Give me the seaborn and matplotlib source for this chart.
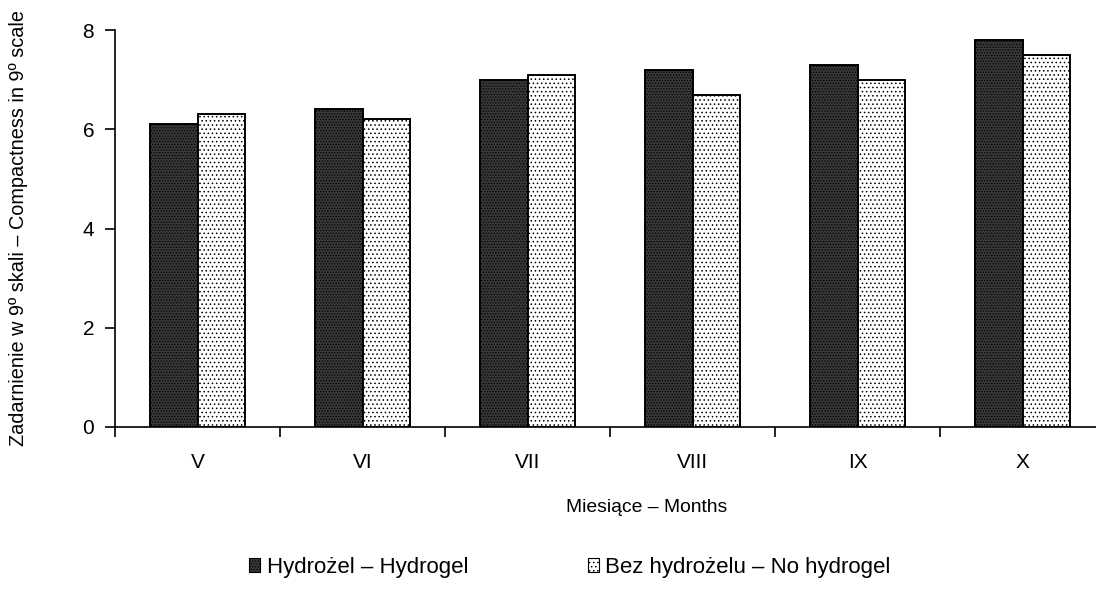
import matplotlib
matplotlib.use("Agg")
import matplotlib.pyplot as plt
from matplotlib.patches import Patch
import seaborn as sns
import pandas as pd
import numpy as np

months = ["V", "VI", "VII", "VIII", "IX", "X"]
hydrogel = [6.1, 6.4, 7.0, 7.2, 7.3, 7.8]
no_hydrogel = [6.3, 6.2, 7.1, 6.7, 7.0, 7.5]
series_names = ["Hydrożel – Hydrogel", "Bez hydrożelu – No hydrogel"]
y_ticks = [0, 2, 4, 6, 8]

df = pd.DataFrame({
    "month": months * 2,
    "value": hydrogel + no_hydrogel,
    "series": [series_names[0]] * len(months) + [series_names[1]] * len(months),
})

sns.set_theme(style="white")
plt.rcParams["font.family"] = ["Liberation Sans", "DejaVu Sans"]
plt.rcParams["hatch.linewidth"] = 0.6
plt.rcParams["text.color"] = "black"
plt.rcParams["axes.labelcolor"] = "black"
plt.rcParams["xtick.color"] = "black"
plt.rcParams["ytick.color"] = "black"

fig = plt.figure(figsize=(10.96, 5.89), dpi=100)
ax = fig.add_axes([115 / 1096, 1 - 427 / 589, 990 / 1096, 397 / 589])

face = {series_names[0]: "#383838", series_names[1]: "#ffffff"}
hatch_colors = {series_names[0]: "#858585", series_names[1]: "#a0a0a0"}
hatch_style = {series_names[0]: "......", series_names[1]: "...."}

sns.barplot(data=df, x="month", y="value", hue="series", order=months,
            hue_order=series_names, palette=face, width=0.58,
            edgecolor="black", linewidth=1.4, ax=ax, legend=False,
            saturation=1)

for cont, name in zip(ax.containers, series_names):
    for bar in cont:
        bar.set_hatch(hatch_style[name])
        if hasattr(bar, "set_hatchcolor"):
            bar.set_hatchcolor(hatch_colors[name])

ax.set_ylim(0, 8)
ax.set_xlim(-0.5, len(months) - 0.5)
ax.set_yticks(y_ticks)
ax.set_yticklabels([str(t) for t in y_ticks], fontsize=15)
ax.set_xticklabels(months, fontsize=15)
ax.set_xticks(np.arange(-0.5, len(months), 1.0), minor=True)
ax.tick_params(axis="x", which="major", bottom=False, length=0, pad=19)
ax.tick_params(axis="x", which="minor", bottom=True, length=7, width=1.2, direction="out", color="black")
ax.tick_params(axis="y", which="major", left=True, length=7, width=1.2, direction="out", color="black", pad=8)
for side in ["top", "right"]:
    ax.spines[side].set_visible(False)
for side in ["left", "bottom"]:
    ax.spines[side].set_color("black")
    ax.spines[side].set_linewidth(1.2)

ax.set_xlabel("Miesiące – Months", fontsize=13.9)
ax.xaxis.set_label_coords((647 - 115) / 990, -(499 - 427) / 397)
ax.set_ylabel("Zadarnienie w 9º skali – Compactness in 9º scale", fontsize=14.3)
ax.yaxis.set_label_coords(-0.088, 0.5)

handles = []
for n in series_names:
    h = Patch(facecolor=face[n], edgecolor="black", hatch=hatch_style[n], linewidth=0.8)
    if hasattr(h, "set_hatchcolor"):
        h.set_hatchcolor(hatch_colors[n])
    handles.append(h)
fig.legend(handles, series_names, loc="center", bbox_to_anchor=(570 / 1096, 1 - 567 / 589),
           ncol=2, frameon=False, fontsize=16, columnspacing=5.35, handlelength=0.5,
           handleheight=0.6, handletextpad=0.3)

fig.savefig("out.png", dpi=100)
